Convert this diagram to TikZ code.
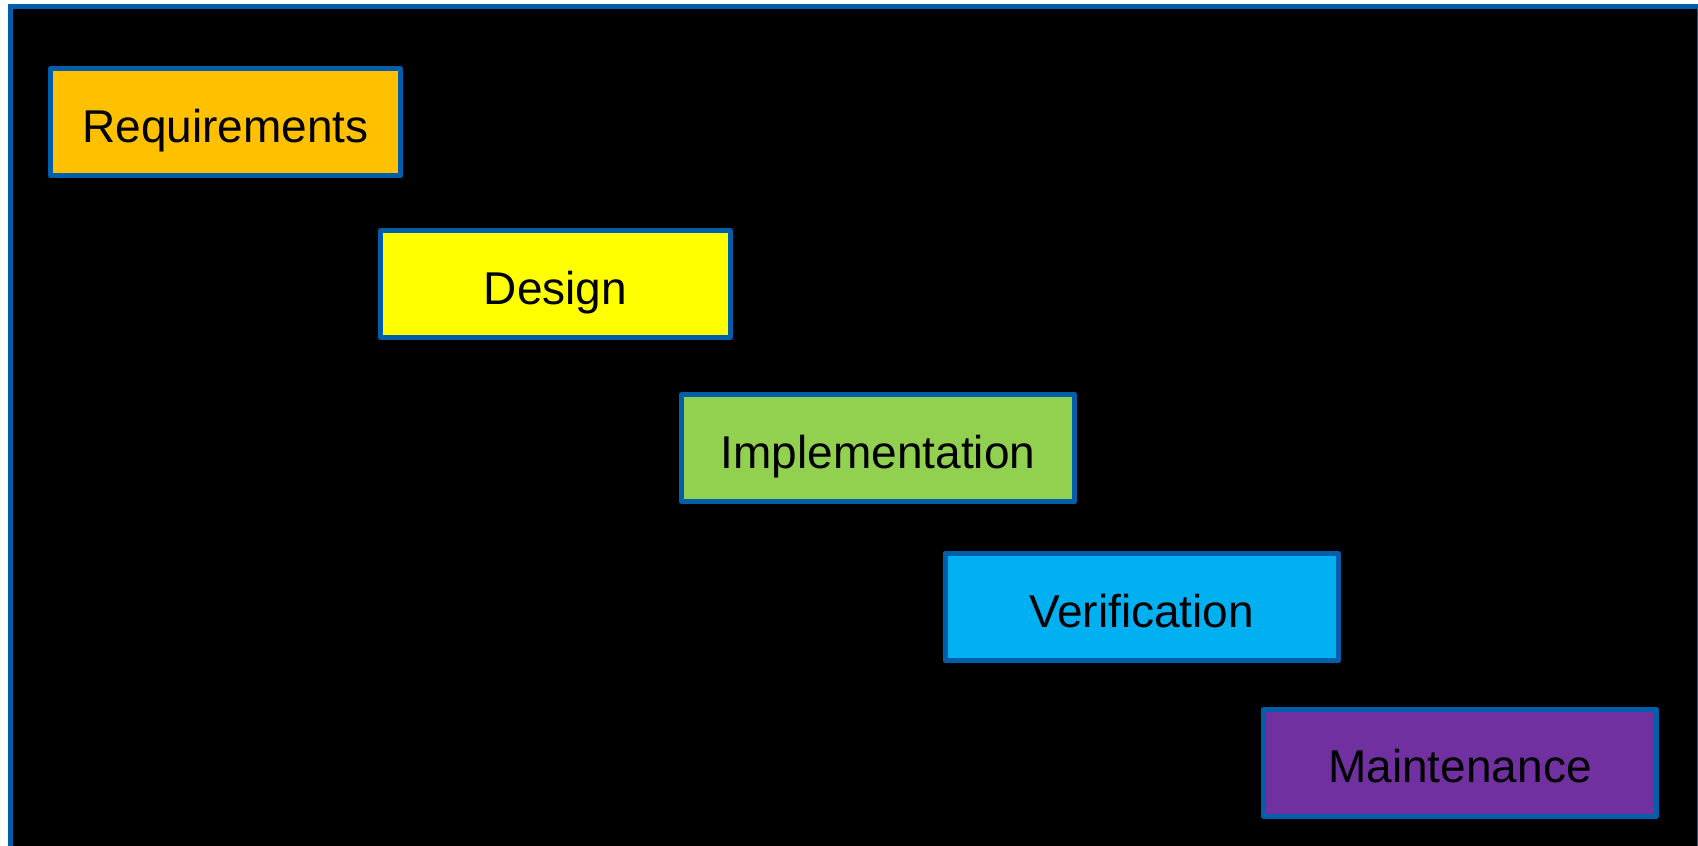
\documentclass[tikz,border=0pt]{standalone}
\usepackage{fontspec}
\setmainfont{Liberation Sans}
\usetikzlibrary{positioning}

\definecolor{frameblue}{RGB}{0,94,170}
\definecolor{reqorange}{RGB}{255,192,0}
\definecolor{desyellow}{RGB}{255,255,0}
\definecolor{impgreen}{RGB}{146,208,80}
\definecolor{verblue}{RGB}{0,176,240}
\definecolor{mntpurple}{RGB}{112,48,160}

\begin{document}
\begin{tikzpicture}[
    x=1pt, y=-1pt,
    phase/.style = {draw=frameblue, line width=5pt, rectangle, line join=round,
                    minimum height=107pt, text height=40pt, text depth=0pt,
                    text=black, font=\fontsize{46}{50}\selectfont},
    short/.style = {phase, minimum width=350pt},
    long/.style = {phase, minimum width=393pt}
]

    \useasboundingbox (0,0) rectangle (1698,846);

    % Background
    \draw [frameblue, line width=5pt, fill=black] (10.5,6.5) rectangle (1699.5,860);

    % Nodes
    \node [short, fill=reqorange] (requirements) at (225.5,122) {Requirements};
    \node [short, fill=desyellow] (design) at (555.5,284) {Design};
    \node [long, fill=impgreen] (implementation) at (878,448) {Implementation};
    \node [long, fill=verblue] (verification) at (1141.5,607) {Verification};
    \node [long, fill=mntpurple] (maintenance) at (1460,762.5) {Maintenance};

\end{tikzpicture}
\end{document}
